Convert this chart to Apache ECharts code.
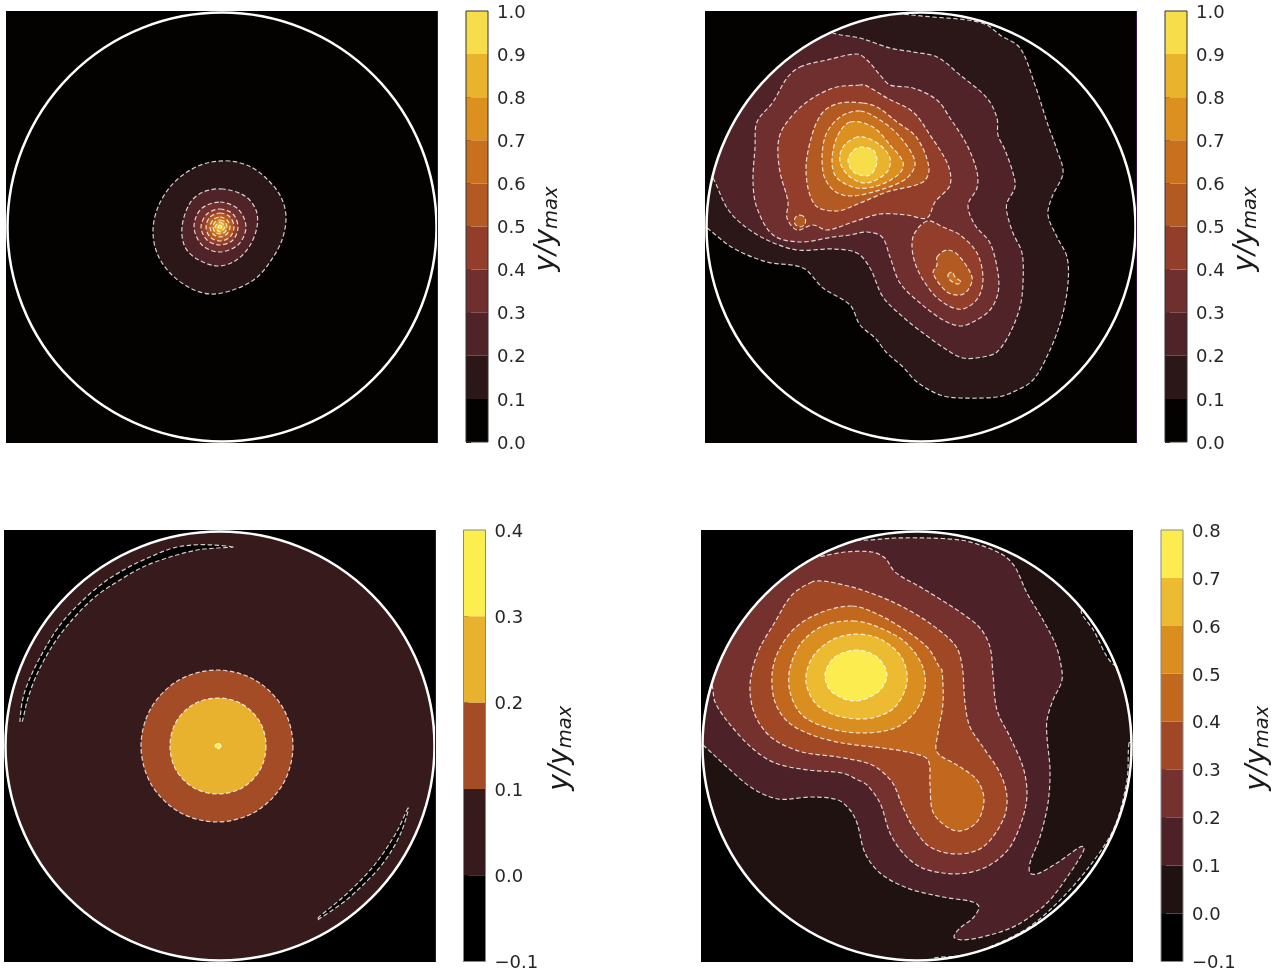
<!DOCTYPE html>
<html>
<head>
<meta charset="utf-8">
<style>html,body{margin:0;padding:0;background:#fff}#c{width:1282px;height:973px}</style>
<script src="https://cdn.jsdelivr.net/npm/echarts@6/dist/echarts.min.js"></script>
</head>
<body>
<div id="c"></div>
<script>
// Colour levels (colorbar values)
const levelsA = [0,0.1,0.2,0.3,0.4,0.5,0.6,0.7,0.8,0.9,1.0];
const colorsA = ['#040201','#2b1618','#4f2327','#6f2f2f','#923e2a','#b35a22','#c8701e','#dc9020','#e9b32e','#f8dd4a'];
const levelsC = [-0.1,0,0.1,0.2,0.3,0.4];
const colorsC = ['#000000','#361a1c','#a34c26','#e8b22e','#fdee50'];
const levelsD = [-0.1,0,0.1,0.2,0.3,0.4,0.5,0.6,0.7,0.8];
const colorsD = ['#000000','#211212','#4c2228','#74312d','#a04826','#c2681e','#da8e20','#ecbb32','#fcec50'];

// Panel 1 contours (mesh coordinates 0-432)
const a01 = [[224,150],[201,152],[181,161],[164,176],[152,196],[147,219],[151,242],[164,262],[184,277],[204,283],[227,279],[249,268],[264,251],[276,229],[280,206],[275,186],[262,169],[245,156]];
const a02 = [[217,178],[197,181],[184,192],[176,216],[179,236],[191,248],[211,255],[229,250],[243,236],[251,216],[250,199],[239,185]];
const a03 = [[214,191],[232,198],[240,216],[232,234],[213,241],[196,234],[188,216],[195,198]];
const a04 = [[214,198],[227,203],[232,216],[227,229],[214,234],[201,229],[195,216],[201,203]];
const a05 = [[214,202],[224,206],[228,216],[224,226],[214,230],[204,226],[200,216],[204,206]];
const a06 = [[214,206],[221,209],[224,216],[221,223],[214,226],[207,223],[204,216],[207,209]];
const a07 = [[214,209],[219,211],[221,216],[219,221],[214,223],[209,221],[207,216],[209,211]];
const a08 = [[214,211],[217,213],[219,216],[217,219],[214,221],[211,219],[209,216],[211,213]];
const a09 = [[214,214],[216,216],[214,218],[212,216]];

// Panel 2 contours
const b01 = [[2,217],[28,237],[62,251],[98,257],[118,277],[145,294],[155,314],[170,327],[182,342],[198,356],[212,371],[235,384],[255,387],[292,386],[308,381],[328,369],[345,339],[357,306],[363,272],[362,246],[352,226],[343,204],[347,186],[358,162],[352,139],[343,114],[330,74],[315,37],[295,24],[282,14],[262,9],[228,6],[198,3],[190,1],[1,1],[1,217]];
const b02 = [[8,167],[22,197],[38,214],[62,229],[92,239],[128,238],[152,242],[165,257],[178,286],[198,306],[218,322],[242,339],[258,347],[278,346],[292,341],[305,322],[315,296],[318,272],[317,242],[308,222],[302,202],[302,192],[310,176],[308,162],[300,139],[293,124],[292,107],[282,87],[255,64],[232,46],[208,41],[185,37],[155,27],[128,22],[120,15],[1,1],[1,160]];
const b03 = [[95,56],[122,49],[152,43],[162,49],[175,64],[185,74],[208,77],[232,89],[245,107],[262,134],[272,161],[272,177],[263,194],[270,214],[285,232],[293,262],[293,282],[285,299],[268,311],[255,315],[238,309],[215,292],[195,272],[185,246],[177,226],[162,221],[145,224],[128,226],[95,231],[68,224],[52,197],[48,171],[50,137],[52,111],[68,91],[82,67]];
const b04a = [[155,74],[128,77],[98,94],[78,117],[73,134],[75,161],[83,191],[82,207],[92,219],[108,214],[122,219],[148,211],[175,203],[202,204],[222,207],[230,191],[245,174],[243,154],[225,124],[208,101],[182,87],[160,74]];
const b04b = [[222,210],[208,226],[210,252],[225,279],[242,294],[258,298],[273,287],[278,267],[272,242],[255,224],[238,216]];
const b05a = [[158,92],[135,92],[118,101],[107,124],[101,161],[110,194],[132,200],[155,192],[182,181],[218,171],[224,157],[212,127],[192,111],[172,96]];
const b05b = [[232,246],[242,239],[253,244],[267,266],[263,279],[255,284],[242,281],[228,262],[232,254]];
const b05c = [[95,204],[100,207],[100,213],[95,216],[90,213],[90,207]];
const b06a = [[155,100],[135,106],[120,126],[118,161],[128,179],[145,185],[175,179],[202,167],[210,151],[195,126],[175,109]];
const b06b = [[243,264],[247,261],[250,266],[256,271],[252,273],[245,269]];
const b07 = [[145,111],[132,126],[127,151],[132,167],[152,177],[175,174],[195,162],[198,151],[185,134],[168,116]];
const b08 = [[152,126],[138,136],[135,151],[145,166],[162,172],[182,161],[185,147],[175,134],[162,127]];
const b09 = [[152,137],[143,149],[150,162],[165,164],[172,151],[168,139]];

// Panel 3 contours
const c00a = [[229,17],[209,15],[189,15],[169,18],[146,27],[123,38],[99,53],[76,73],[56,95],[39,122],[26,148],[19,168],[16,192],[18,192],[24,168],[34,142],[49,115],[68,90],[91,67],[116,50],[139,37],[166,27],[193,20],[213,18]];
const c00b = [[404,278],[394.5,298.5],[384,316],[372,333],[357,350],[337.5,368.5],[315,387],[313,390],[315,389],[340.5,371.5],[360.5,353.5],[376,337],[388,320],[397.5,301.5],[404,281]];
const c01 = [[289,216],[279,254],[251,282],[213,292],[175,282],[147,254],[137,216],[147,178],[175,150],[213,140],[251,150],[279,178]];
const c02 = [[262,216],[256,240],[238,258],[214,264],[190,258],[172,240],[166,216],[172,192],[190,174],[214,168],[238,174],[256,192]];
const c03 = [[217,216],[214,219],[211,216],[214,213]];

// Panel 4 contours
const d00a = [[428,213],[426,250],[414,296],[394,329],[364,365],[331,395],[298,413],[265,425],[232,428],[232,431],[431,431],[431,213]];
const d00b = [[381,80],[393,101],[412,134],[431,134],[431,80]];
const d01 = [[2,215],[27,238],[51,258],[77,269],[111,267],[137,270],[149,280],[156,293],[164,323],[179,343],[206,358],[242,367],[272,372],[278,377],[272,388],[259,398],[253,407],[262,410],[289,405],[316,395],[346,373],[369,343],[382,322],[383,317],[379,317],[356,333],[336,344],[329,343],[329,333],[339,307],[347,273],[349,240],[346,207],[346,190],[352,170],[361,150],[359,130],[354,113],[342,90],[326,63],[314,37],[302,25],[279,15],[259,10],[227,8],[194,8],[157,10],[150,5],[1,1],[1,215]];
const d02 = [[11,155],[14,172],[27,192],[51,218],[74,233],[107,240],[141,243],[157,250],[166,255],[179,273],[189,303],[202,323],[219,337],[242,343],[266,343],[289,335],[309,317],[322,287],[326,263],[322,237],[309,207],[296,180],[292,145],[289,117],[279,98],[259,82],[221,58],[194,42],[184,28],[171,22],[144,22],[114,27],[110,24],[1,1],[1,150],[8,155]];
const d03 = [[111,52],[91,65],[74,92],[57,122],[49,155],[54,185],[71,208],[101,222],[137,227],[171,235],[191,252],[201,275],[212,297],[229,317],[256,324],[282,317],[302,290],[306,267],[299,243],[282,217],[269,197],[264,173],[261,135],[254,115],[227,92],[194,73],[161,60],[134,53],[121,51]];
const d04 = [[151,76],[121,82],[94,98],[77,122],[71,145],[74,172],[87,192],[111,205],[141,213],[181,218],[211,223],[227,230],[229,255],[232,282],[246,297],[259,301],[276,292],[283,270],[276,250],[256,235],[236,222],[237,203],[242,173],[241,140],[239,138],[227,118],[201,98],[174,83]];
const d05 = [[154,91],[124,95],[101,112],[89,138],[89,162],[101,185],[127,198],[161,203],[194,198],[214,182],[224,158],[221,135],[204,112],[177,97]];
const d06 = [[157,104],[131,110],[111,128],[105,152],[116,175],[141,187],[171,188],[194,177],[206,152],[201,128],[181,110]];
const d07 = [[157,120],[134,127],[124,145],[131,162],[154,171],[177,162],[186,145],[177,128]];

// [colour index, contour]
const panelA = [[1,a01],[2,a02],[3,a03],[4,a04],[5,a05],[6,a06],[7,a07],[8,a08],[9,a09]];
const panelB = [[1,b01],[2,b02],[3,b03],[4,b04a],[4,b04b],[5,b05a],[5,b05b],[5,b05c],[6,b06a],[6,b06b],[7,b07],[8,b08],[9,b09]];
const panelC = [[0,c00a],[0,c00b],[2,c01],[3,c02],[4,c03]];
const panelD = [[0,d00a],[0,d00b],[2,d01],[3,d02],[4,d03],[5,d04],[6,d05],[7,d06],[8,d07]];

const rim = [216,216,214.5];

const layouts = [
  {contours:panelA, colors:colorsA, levels:levelsA, base:colorsA[0], px:6,  py:11,  bx:466,  by:11,  bh:431, gap:44, purple:true, frame:'#333', mask:'#040201'},
  {contours:panelB, colors:colorsA, levels:levelsA, base:colorsA[0], px:705,py:11,  bx:1165, by:11,  bh:431, gap:44, purple:true, frame:'#333', mask:'#040201'},
  {contours:panelC, colors:colorsC, levels:levelsC, base:colorsC[1], px:4,  py:530, bx:463.5,by:530, bh:431.5, gap:60, purple:true, frame:'#888', mask:'#000'},
  {contours:panelD, colors:colorsD, levels:levelsD, base:colorsD[1], px:701,py:530, bx:1161, by:530, bh:431.5, gap:60, purple:false,frame:'#888', mask:'#000'}
];

const grid=[],xAxis=[],yAxis=[],series=[];
const size=432;
layouts.forEach((L,i)=>{
  const gi=i*2, gb=i*2+1;
  grid.push({left:L.px,top:L.py,width:size,height:size,show:true,backgroundColor:L.base,borderWidth:0});
  xAxis.push({gridIndex:gi,type:'value',min:0,max:size,show:false});
  yAxis.push({gridIndex:gi,type:'value',min:0,max:size,inverse:true,show:false});
  grid.push({left:L.bx,top:L.by,width:22,height:L.bh,show:false});
  xAxis.push({gridIndex:gb,type:'value',min:0,max:1,show:false});
  yAxis.push({gridIndex:gb,type:'value',position:'right',
    min:L.levels[0],max:L.levels[L.levels.length-1],interval:0.1,
    splitLine:{show:false},axisLine:{show:false},
    axisTick:{show:true,length:5,lineStyle:{color:'#222',width:1}},
    axisLabel:{margin:9,
      formatter:v=>'{t|'+v.toFixed(1).replace('-','\u2212')+'}',
      rich:{t:{fontFamily:'DejaVu Sans',fontSize:18,color:'#262626',padding:[4,0,0,0]}}},
    name:'{m|y/y}{s|max}',nameLocation:'middle',nameGap:L.gap,nameRotate:90,
    nameTextStyle:{padding:[0,5,0,0],rich:{
      m:{fontFamily:'DejaVu Sans',fontStyle:'italic',fontSize:28,color:'#1a1a1a'},
      s:{fontFamily:'DejaVu Sans',fontStyle:'italic',fontSize:19.5,color:'#1a1a1a',padding:[10,0,0,0]}
    }}
  });
  // filled contours
  series.push({type:'custom',xAxisIndex:gi,yAxisIndex:gi,coordinateSystem:'cartesian2d',silent:true,animation:false,z:2,clip:true,
    data:L.contours.map((c,k)=>[k]),
    renderItem:(p,api)=>{
      const c=L.contours[p.dataIndex];
      return {type:'polygon',z2:p.dataIndex,shape:{points:c[1].map(q=>api.coord(q)),smooth:0.33},
        style:{fill:L.colors[c[0]],stroke:'rgba(255,255,255,0.8)',lineWidth:1.2,lineDash:[4.5,2.5]}};
    }});
  // outside-of-disc mask, white rim
  series.push({type:'custom',xAxisIndex:gi,yAxisIndex:gi,coordinateSystem:'cartesian2d',silent:true,animation:false,z:3,
    data:[rim],
    renderItem:(p,api)=>{
      const c=api.coord([rim[0],rim[1]]);
      const r=api.size([rim[2],0])[0];
      const tl=api.coord([0,0]), br=api.coord([size,size]);
      const pts=[[tl[0],c[1]],[tl[0],tl[1]],[br[0],tl[1]],[br[0],br[1]],[tl[0],br[1]],[tl[0],c[1]]];
      for(let a=0;a<=360;a+=2){const t=Math.PI-a*Math.PI/180;pts.push([c[0]+r*Math.cos(t),c[1]+r*Math.sin(t)]);}
      const kids=[
        {type:'polygon',shape:{points:pts},style:{fill:L.mask}},
        {type:'circle',shape:{cx:c[0],cy:c[1],r:r},style:{fill:'none',stroke:'#fff',lineWidth:2.5}}
      ];
      if(L.purple) kids.push({type:'line',shape:{x1:br[0]-0.5,y1:tl[1],x2:br[0]-0.5,y2:br[1]},style:{stroke:'#35154f',lineWidth:1}});
      return {type:'group',children:kids};
    }});
  // colorbar cells
  series.push({type:'custom',xAxisIndex:gb,yAxisIndex:gb,coordinateSystem:'cartesian2d',silent:true,animation:false,z:2,
    data:L.colors.map((c,k)=>[k]),
    renderItem:(p,api)=>{
      const k=p.dataIndex;
      const a=api.coord([0,L.levels[k]]), b=api.coord([1,L.levels[k+1]]);
      return {type:'rect',shape:{x:a[0],y:b[1],width:b[0]-a[0],height:a[1]-b[1]},style:{fill:L.colors[k]}};
    }});
  // colorbar outline
  series.push({type:'custom',xAxisIndex:gb,yAxisIndex:gb,coordinateSystem:'cartesian2d',silent:true,animation:false,z:3,
    data:[[0]],
    renderItem:(p,api)=>{
      const a=api.coord([0,L.levels[0]]), b=api.coord([1,L.levels[L.levels.length-1]]);
      return {type:'rect',shape:{x:a[0],y:b[1],width:b[0]-a[0],height:a[1]-b[1]},style:{fill:'none',stroke:L.frame,lineWidth:1}};
    }});
});

const chart=echarts.init(document.getElementById('c'),null,{renderer:'canvas'});
chart.setOption({animation:false,backgroundColor:'#fff',grid,xAxis,yAxis,series});
</script>
</body>
</html>
